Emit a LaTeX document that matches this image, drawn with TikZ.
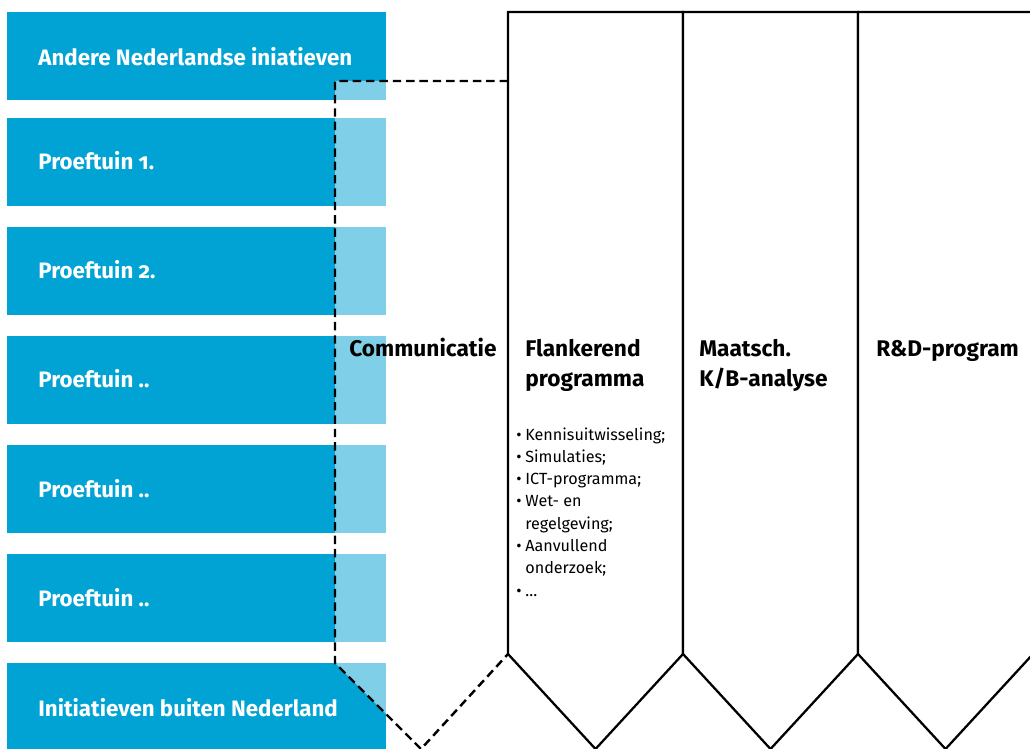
\documentclass[tikz,border=0pt]{standalone}
\usepackage{fontspec}
\setmainfont{Fira Sans}[Numbers=OldStyle]
\definecolor{rblue}{HTML}{00A3D4}
\definecolor{rlight}{HTML}{80CFE8}
\begin{document}
\begin{tikzpicture}[x=0.02cm,y=-0.02cm,
  blbox/.style={fill=rblue, draw=none, minimum width=7.58cm, minimum height=1.76cm, inner sep=0pt, anchor=north west},
  lbl/.style={text=white, font=\fontsize{12.7}{15}\selectfont\bfseries, anchor=base west, inner sep=0pt},
  ttl/.style={font=\fontsize{12.9}{17}\selectfont\bfseries, anchor=base west, inner sep=0pt},
  itm/.style={font=\fontsize{9.2}{12.6}\selectfont, anchor=base west, inner sep=0pt},
  colshape/.style={draw=black, line width=1.3pt, fill=white, line join=miter},
  dsh/.style={line width=1.4pt, dash pattern=on 4.8pt off 2.8pt}]
\useasboundingbox (0,0) rectangle (1030,749);
\clip (0,0) rectangle (1030,749);
% blue boxes
\node[blbox] (b1) at (7,12) {};
\node[blbox] (b2) at (7,118) {};
\node[blbox] (b3) at (7,227) {};
\node[blbox] (b4) at (7,336) {};
\node[blbox] (b5) at (7,445) {};
\node[blbox] (b6) at (7,554) {};
\node[blbox] (b7) at (7,663) {};
% light overlay inside the dashed arrow
\begin{scope}
  \clip (335,81) -- (508,81) -- (508,654) -- (421,749) -- (335,663) -- cycle;
  \foreach \t in {12,118,227,336,445,554,663}{
    \fill[rlight] (7,\t) rectangle (386,\t+88);
  }
\end{scope}
% labels
\node[lbl] (l1) at (38,66) {Andere Nederlandse iniatieven};
\node[lbl] (l2) at (38,170) {Proeftuin 1.};
\node[lbl] (l3) at (38,279) {Proeftuin 2.};
\node[lbl] (l4) at (38,388) {Proeftuin ..};
\node[lbl] (l5) at (38,497) {Proeftuin ..};
\node[lbl] (l6) at (38,606) {Proeftuin ..};
\node[lbl] (l7) at (38,716) {Initiatieven buiten Nederland};
% columns
\draw[colshape] (508,12) -- (683,12) -- (683,654) -- (595.5,749) -- (508,654) -- cycle;
\draw[colshape] (683,12) -- (858,12) -- (858,654) -- (770.5,749) -- (683,654) -- cycle;
\draw[colshape] (858,12) -- (1033,12) -- (1033,654) -- (945.5,749) -- (858,654) -- cycle;
% dashed arrow
\coordinate (dA) at (508,81);
\coordinate (dB) at (335,81);
\coordinate (dC) at (335,663);
\coordinate (dD) at (421,749);
\coordinate (dE) at (508,654);
\draw[dsh] (dA) -- (dB) -- (dC) -- (dD) -- (dE);
% titles
\node[ttl] (t0) at (349,357) {Communicatie};
\node[ttl] (t1a) at (525,357) {Flankerend};
\node[ttl] (t1b) at (525,386) {programma};
\node[ttl] (t2a) at (699,357) {Maatsch.};
\node[ttl] (t2b) at (699,386) {K/B-analyse};
\node[ttl] (t3) at (876,357) {R\&D-program};
% bullet list
\foreach \y/\b/\txt [count=\i] in {440/1/Kennisuitwisseling;, 462.3/1/Simulaties;, 484.6/1/ICT-programma;, 506.9/1/Wet- en, 529.2/0/regelgeving;, 551.5/1/Aanvullend, 573.8/0/onderzoek;, 596.1/1/\dots}{
  \ifnum\b=1 \node[itm] (bu\i) at (516,\y) {•};\fi
  \node[itm] (it\i) at (525,\y) {\txt};
}
\end{tikzpicture}
\end{document}
